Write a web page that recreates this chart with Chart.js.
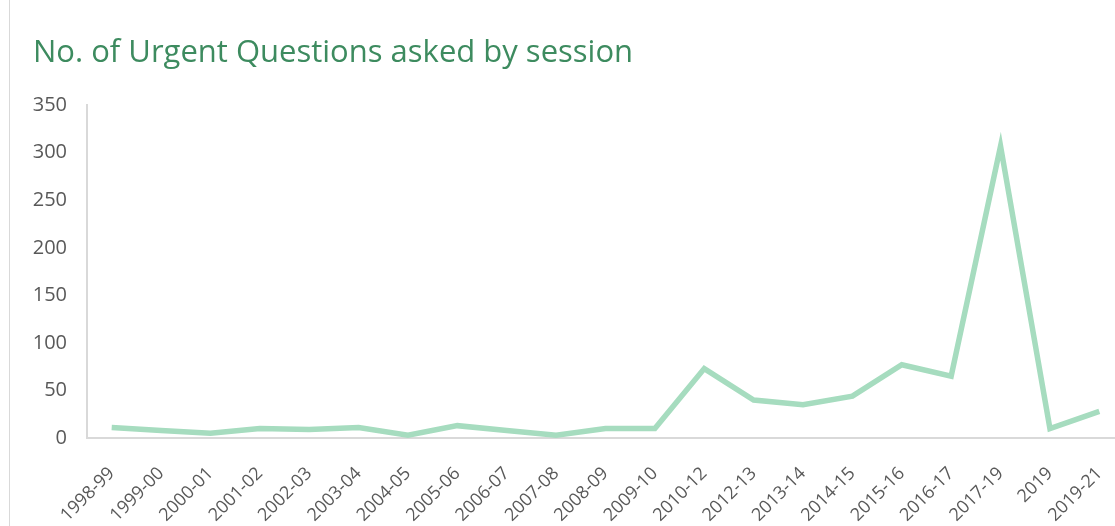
<!DOCTYPE html>
<html>
<head>
<meta charset="utf-8">
<script src="https://cdn.jsdelivr.net/npm/chart.js@4"></script>
<style>
    body { margin: 0; overflow: hidden; background: #fff; }
    .frame { position: relative; width: 1124px; height: 526px; }
    .edge { position: absolute; left: 9px; top: 0; width: 1px; height: 526px; background: #d9d9d9; }
</style>
</head>
<body>
<div class="frame">
    <div class="edge"></div>
    <canvas id="uq-chart" width="1124" height="526"></canvas>
</div>
<script>
const sessions = [
    '1998-99', '1999-00', '2000-01', '2001-02', '2002-03', '2003-04', '2004-05',
    '2005-06', '2006-07', '2007-08', '2008-09', '2009-10', '2010-12', '2012-13',
    '2013-14', '2014-15', '2015-16', '2016-17', '2017-19', '2019', '2019-21'
];
const urgentQuestions = [11, 8, 5, 10, 9, 11, 3, 13, 8, 3, 10, 10, 73, 40, 35, 44, 77, 65, 307, 10, 28];
const yTicks = [0, 50, 100, 150, 200, 250, 300, 350];

const chartCanvas = document.getElementById('uq-chart');
if(chartCanvas != undefined) {
    const uqChart = new Chart(chartCanvas, {
        type: 'line',
        data: {
            labels: sessions,
            datasets: [{
                label: 'Urgent Questions',
                data: urgentQuestions,
                borderColor: '#a6dcbf',
                borderWidth: 5.5,
                pointRadius: 0,
                tension: 0,
                fill: false
            }]
        },
        options: {
            responsive: false,
            animation: false,
            layout: {
                padding: { left: 33, top: 35, right: 0, bottom: 0 }
            },
            scales: {
                x: {
                    offset: true,
                    grid: { display: false },
                    border: { display: true, color: '#d9d9d9', width: 2 },
                    ticks: {
                        color: '#595959',
                        font: { family: 'Open Sans', size: 18 },
                        minRotation: 45,
                        maxRotation: 45,
                        autoSkip: false,
                        padding: 17
                    },
                    afterFit: axis => {
                        axis.height = 88;
                        axis.paddingLeft = 0;
                        axis.paddingRight = 0;
                    }
                },
                y: {
                    min: 0,
                    max: 350,
                    afterBuildTicks: axis => {
                        axis.ticks = yTicks.map(v => ({ value: v }));
                    },
                    grid: { display: false, drawTicks: false },
                    border: { display: true, color: '#d9d9d9', width: 2 },
                    ticks: {
                        color: '#595959',
                        font: { family: 'Open Sans', size: 20 },
                        padding: 20
                    },
                    afterFit: axis => {
                        axis.width = 54;
                        axis.paddingTop = 0;
                        axis.paddingBottom = 0;
                    }
                }
            },
            plugins: {
                legend: { display: false },
                tooltip: { enabled: false },
                title: {
                    display: true,
                    text: 'No. of Urgent Questions asked by session',
                    align: 'start',
                    color: '#3d8b5f',
                    font: { family: 'Open Sans', size: 31, weight: 'normal' },
                    padding: { top: 0, bottom: 33 }
                }
            }
        }
    });
}
</script>
</body>
</html>
